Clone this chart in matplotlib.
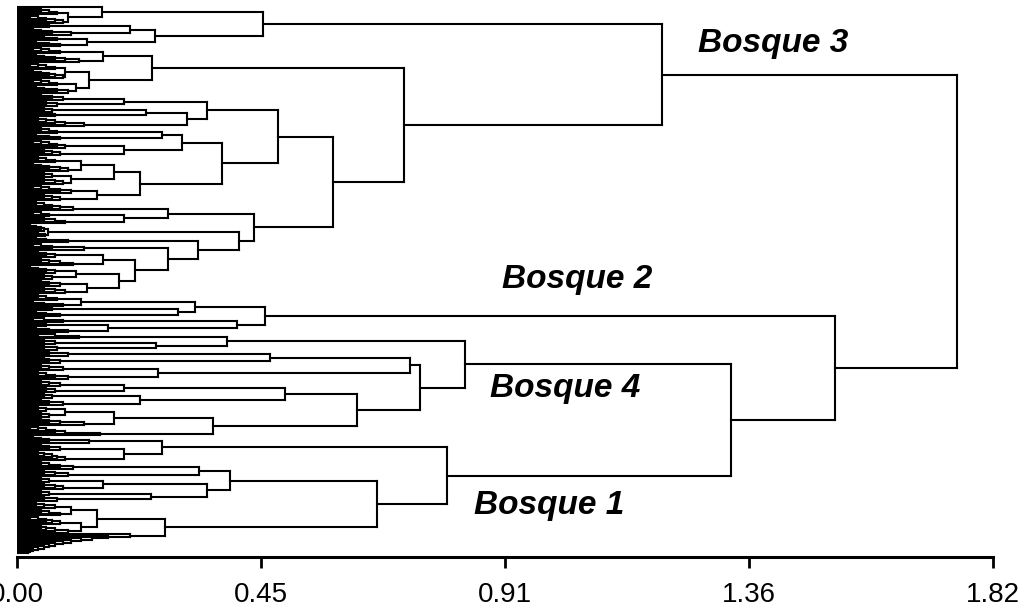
import matplotlib
matplotlib.use("Agg")
import matplotlib.pyplot as plt
from matplotlib.collections import LineCollection

# ── Tick axis ─────────────────────────────────────────
TICK_VALS = [0.0, 0.455, 0.91, 1.365, 1.82]
TICK_LABELS = ["0.00", "0.45", "0.91", "1.36", "1.82"]

# Group labels (text, x px, baseline y px in the 1027x612 picture)
GROUPS = ["Bosque 3", "Bosque 2", "Bosque 4", "Bosque 1"]
GROUP_XY = [(698, 52), (502, 288), (490, 397), (474, 514)]

# ── Twigs: merge heights of small leaf combs (leaves = len+1) ──
# a descending list is a comb that climbs upward
t_a1 = [0.03, 0.045, 0.06, 0.075]
t_a2 = [0.025, 0.04, 0.055, 0.07, 0.085]
t_a3 = [0.035, 0.06]
t_a4 = [0.03, 0.045, 0.065, 0.1]
t_a5 = [0.03, 0.05, 0.075]
t_a6 = [0.035, 0.06, 0.08]
t_b1 = [0.03, 0.045, 0.06, 0.08]
t_b2 = [0.035, 0.05, 0.07, 0.09, 0.115]
t_b3 = [0.025, 0.04, 0.055, 0.07]
t_b4 = [0.03, 0.045, 0.06, 0.07, 0.085]
t_b5 = [0.03, 0.045, 0.06, 0.075]
t_b6 = [0.035, 0.05, 0.075, 0.095]
t_c1 = [0.03, 0.045, 0.065, 0.085]
t_c2 = [0.035, 0.055, 0.075]
t_c3 = [0.03, 0.05, 0.065]
t_c4 = [0.04, 0.07]
t_c5 = [0.025, 0.04, 0.055, 0.07, 0.09, 0.125]
t_d1 = [0.03, 0.045, 0.06, 0.075]
t_d2 = [0.035, 0.06, 0.08]
t_d3 = [0.03, 0.045, 0.06, 0.075, 0.09]
t_d4 = [0.025, 0.05, 0.065, 0.08]
t_d5 = [0.025, 0.04, 0.055, 0.07]
t_d6 = [0.03, 0.045, 0.06, 0.08, 0.095]
t_d7 = [0.03, 0.05, 0.065]
t_d8 = [0.035, 0.05, 0.07, 0.085]
t_d9 = [0.03, 0.045, 0.06, 0.08, 0.1]
t_d10 = [0.035, 0.05, 0.065, 0.08]
t_e1 = [0.025, 0.035, 0.05, 0.065, 0.08, 0.105]
t_e2 = [0.03, 0.045, 0.06]
t_e3 = [0.035, 0.05, 0.07, 0.09]
t_e4 = [0.025, 0.035, 0.045, 0.05]
t_e5 = [0.03, 0.04, 0.052]
t_e6 = [0.035, 0.055, 0.095]
t_e7 = [0.03, 0.045, 0.065, 0.125]
t_e8 = [0.025, 0.04, 0.055, 0.07]
t_e9 = [0.03, 0.045, 0.06, 0.08, 0.105]
t_e10 = [0.025, 0.04, 0.055, 0.07]
t_e11 = [0.035, 0.05, 0.065]
t_e12 = [0.03, 0.045, 0.06, 0.08]
t_e13 = [0.035, 0.05, 0.07, 0.09]
t_f1 = [0.025, 0.04, 0.055, 0.075]
t_f2 = [0.03, 0.05, 0.085]
t_f3 = [0.035, 0.065]
t_f4 = [0.035, 0.055, 0.08]
t_f5 = [0.03, 0.05, 0.085]
t_f6 = [0.03, 0.055]
t_f7 = [0.035, 0.06, 0.095]
t_f8 = [0.04, 0.07, 0.115]
t_f9 = [0.03, 0.05, 0.07]
t_f10 = [0.03, 0.05, 0.075]
t_g1 = [0.035, 0.06, 0.095]
t_g2 = [0.035, 0.05, 0.06, 0.08]
t_g3 = [0.03, 0.045, 0.06, 0.085]
t_g4 = [0.025, 0.04, 0.055, 0.07, 0.095]
t_g5 = [0.03, 0.045, 0.06, 0.08]
t_g6 = [0.035, 0.055, 0.07]
t_g7 = [0.03, 0.05, 0.065]
t_g8 = [0.025, 0.045, 0.06, 0.085]
t_g9 = [0.03, 0.04, 0.055]
t_g10 = [0.03, 0.045, 0.06]
t_g11 = [0.025, 0.045, 0.06, 0.08, 0.125]
t_g12 = [0.025, 0.04, 0.055, 0.07, 0.09, 0.155]
t_h1 = [0.03, 0.045, 0.06, 0.135]
t_h2 = [0.025, 0.045, 0.06, 0.08]
t_h3 = [0.03, 0.04, 0.05, 0.065, 0.075, 0.09]
t_h4 = [0.025, 0.045, 0.06, 0.08, 0.105]
t_h5 = [0.03, 0.05, 0.07, 0.095]
t_h6 = [0.03, 0.045, 0.06]
t_h7 = [0.035, 0.05, 0.07, 0.085]
t_h8 = [0.03, 0.045, 0.06]
t_h9 = [0.025, 0.05, 0.075]
t_h10 = [0.025, 0.035, 0.05, 0.07]
t_h11 = [0.03, 0.045, 0.06, 0.08]
t_h12 = [0.025, 0.04, 0.055, 0.065, 0.08]
t_h13 = [0.03, 0.045, 0.055, 0.07, 0.095]
t_h14 = [0.21, 0.17, 0.14, 0.12, 0.1, 0.085, 0.07, 0.06, 0.05, 0.04, 0.03,
         0.025, 0.02]

# ── Cluster merge heights (distance) ──────────────────
H_ROOT = 1.753
H_BOSQUE3 = 1.203
H_B3_TOP, H_B3_LOW = 0.459, 0.722
H_B241 = 1.525
H_B41 = 1.331
H_B4, H_B1 = 0.835, 0.802

# ── Tree assembly: (height, upper child, lower child) ──
b3_top = (H_B3_TOP,
          (0.158, [], (0.095, t_a1, t_a2)),
          (0.257, (0.21, t_a3, t_a4), (0.13, t_a5, t_a6)))
b3_a = (0.252, (0.16, t_b1, t_b2),
        (0.135, (0.09, t_b3, t_b4), (0.11, t_b5, t_b6)))
b3_c1 = (0.354, (0.2, t_c1, t_c2), (0.317, (0.24, t_c3, t_c4), t_c5))
b3_c2 = (0.382, (0.308, (0.27, t_d1, t_d2), (0.2, t_d3, t_d4)),
         (0.229, (0.18, (0.12, t_d5, t_d6), (0.1, t_d7, t_d8)),
          (0.15, t_d9, t_d10)))
b3_e_low = (0.282, t_e7,
            (0.22, (0.16, t_e8, t_e9),
             (0.19, (0.11, t_e10, t_e11), (0.13, t_e12, t_e13))))
b3_e = (0.442, (0.282, t_e1, (0.2, t_e2, t_e3)),
        (0.414, (0.058, t_e4, t_e5), (0.338, t_e6, b3_e_low)))
bosque3 = (H_BOSQUE3, b3_top,
           (H_B3_LOW, b3_a, (0.589, (0.487, b3_c1, b3_c2), b3_e)))

b2 = (0.462, (0.332, (0.12, t_f1, t_f2), (0.3, t_f3, t_f4)),
      (0.41, t_f5, (0.17, t_f6, t_f7)))
b4_low = (0.751, (0.733, (0.472, t_g1, t_g2), (0.263, t_g3, t_g4)),
          (0.634, (0.5, (0.2, t_g5, t_g6), (0.23, t_g7, t_g8)),
           (0.365, (0.18, (0.09, t_g9, t_g10), t_g11), t_g12)))
b4 = (H_B4, (0.392, t_f8, (0.26, t_f9, t_f10)), b4_low)
b1_low = (0.671, (0.397, (0.339, t_h4, t_h5),
                  (0.354, (0.16, t_h6, t_h7), (0.25, t_h8, t_h9))),
          (0.276, (0.15, (0.1, t_h10, t_h11), (0.12, t_h12, t_h13)), t_h14))
b1 = (H_B1, (0.27, t_h1, (0.2, t_h2, t_h3)), b1_low)
bosque241 = (H_B241, b2, (H_B41, b4, b1))

tree = (H_ROOT, bosque3, bosque241)


def build(t, start, segs):
    """Lay out leaves top-down; return (position, height, n_leaves)."""
    if isinstance(t, list):
        hs = t
        flip = len(hs) > 1 and hs[0] > hs[-1]
        if flip:
            hs = hs[::-1]
        n = len(hs) + 1
        f = (lambda p: start + n - 1 - p) if flip else (lambda p: start + p)
        p, ch = 0.0, 0.0
        for i, h in enumerate(hs, 1):
            segs.append([(ch, f(p)), (h, f(p))])
            segs.append([(0, f(i)), (h, f(i))])
            segs.append([(h, f(p)), (h, f(i))])
            p, ch = (p + i) / 2, h
        return f(p), ch, n
    h, a, b = t
    pa, ha, na = build(a, start, segs)
    pb, hb, nb = build(b, start + na, segs)
    segs += [[(ha, pa), (h, pa)], [(hb, pb), (h, pb)], [(h, pa), (h, pb)]]
    return (pa + pb) / 2, h, na + nb


segs = []
_, _, N = build(tree, 0, segs)

W, H = 1027, 612
fig = plt.figure(figsize=(W / 100, H / 100), dpi=100)
# axes: x from px 17 to 993, y from px 0 to 557 (bottom spine)
ax = fig.add_axes([17 / W, 1 - 557 / H, (993 - 17) / W, 557 / H])

lc = LineCollection(segs, colors="black", linewidths=1.5, capstyle="projecting")
ax.add_collection(lc)

k = (553 - 7) / (N - 1)          # px per leaf
ax.set_ylim(N - 1 + 4 / k, -7 / k)
ax.set_xlim(0, 1.82)

for s in ["left", "top", "right"]:
    ax.spines[s].set_visible(False)
ax.spines["bottom"].set_linewidth(2.2)
ax.set_yticks([])
ax.set_xticks(TICK_VALS)
ax.set_xticklabels(TICK_LABELS, fontsize=20, fontfamily="Liberation Sans")
ax.tick_params(axis="x", length=8, width=2, pad=10, direction="out")
ax.patch.set_visible(False)

for txt, (x, y) in zip(GROUPS, GROUP_XY):
    fig.text(x / W, 1 - y / H, txt, fontfamily="Liberation Sans",
             fontweight="bold", fontstyle="italic", fontsize=24,
             ha="left", va="baseline")

fig.savefig("out.png", dpi=100)
